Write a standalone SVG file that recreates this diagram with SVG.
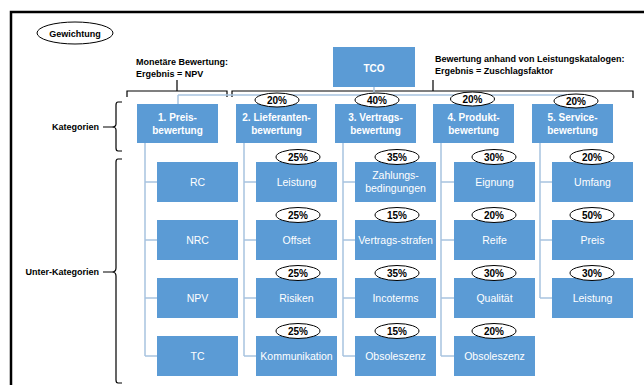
<svg xmlns="http://www.w3.org/2000/svg" width="644" height="385" viewBox="0 0 644 385">
<style>
.box{fill:#5B9BD5;}
.cat{font-family:"Liberation Sans",Arial,sans-serif;font-size:10px;font-weight:bold;fill:#fff;text-anchor:middle;}
.sub{font-family:"Liberation Sans",Arial,sans-serif;font-size:10.5px;fill:#fff;text-anchor:middle;}
.pct{fill:#fff;stroke:#000;stroke-width:1;}
.pt{font-family:"Liberation Sans",Arial,sans-serif;font-size:10px;font-weight:bold;fill:#000;text-anchor:middle;}
.lbl{font-family:"Liberation Sans",Arial,sans-serif;font-size:9px;font-weight:bold;fill:#000;}
.con{fill:none;stroke:#A8C3E0;stroke-width:1.5;}
.brk{fill:none;stroke:#000;stroke-width:1.2;}
</style>
<rect x="0" y="0" width="644" height="385" fill="#fff"/>
<path d="M11,400 V12 H660" fill="none" stroke="#000" stroke-width="2.5"/>

<g id="gewichtung">
<ellipse cx="75" cy="33" rx="38" ry="11" fill="#fff" stroke="#000" stroke-width="1"/>
<text x="75" y="37" class="lbl" text-anchor="middle" font-size="9.5">Gewichtung</text>
</g>

<g id="labels">
<text x="136" y="65" class="lbl">Monetäre Bewertung:</text>
<text x="136" y="77" class="lbl">Ergebnis = NPV</text>
<text x="435" y="62" class="lbl">Bewertung anhand von Leistungskatalogen:</text>
<text x="435" y="74" class="lbl">Ergebnis = Zuschlagsfaktor</text>
<text x="99" y="130" class="lbl" text-anchor="end">Kategorien</text>
<text x="99" y="275" class="lbl" text-anchor="end">Unter-Kategorien</text>
</g>

<g id="brackets">
<path class="brk" d="M127,97 V91 H227 V97 M177,91 V80"/>
<path class="brk" d="M232,97 V91 H633 V98 M433,91 V80"/>
<path class="brk" d="M103,127 H112 M122,102 H118 Q116,102 116,105 V124 Q116,127 112,127 Q116,127 116,130 V148 Q116,151 118,151 H122"/>
<path class="brk" d="M103,272 H112 M122,159 H118 Q116,159 116,162 V268 Q116,272 112,272 Q116,272 116,276 V380 Q116,383 118,383 H122"/>
</g>

<g id="connectors">
<path class="con" d="M374,87 V95 M178,95 H572.5 M178,95 V104 M276.5,95 V104 M375.5,95 V104 M473.5,95 V104 M572.5,95 V104"/>
<path class="con" d="M145,143 V356 M145,182 H157 M145,240 H157 M145,298 H157 M145,356 H157"/>
<path class="con" d="M244,143 V356 M244,182 H256 M244,240 H256 M244,298 H256 M244,356 H256"/>
<path class="con" d="M343,143 V356 M343,182 H355 M343,240 H355 M343,298 H355 M343,356 H355"/>
<path class="con" d="M441,143 V356 M441,182 H454 M441,240 H454 M441,298 H454 M441,356 H454"/>
<path class="con" d="M540,143 V298 M540,182 H552 M540,240 H552 M540,298 H552"/>
</g>

<g id="tco">
<rect class="box" x="333" y="47" width="82" height="40"/>
<text x="374" y="72" class="cat" font-size="14">TCO</text>
</g>

<g id="cat1"><rect class="box" x="137" y="104" width="81" height="39"/>
<text x="177.5" y="121" class="cat">1. Preis-</text><text x="177.5" y="134" class="cat">bewertung</text></g>
<g id="cat2"><rect class="box" x="236" y="104" width="81" height="39"/>
<text x="276.5" y="121" class="cat">2. Lieferanten-</text><text x="276.5" y="134" class="cat">bewertung</text>
<ellipse class="pct" cx="277" cy="100" rx="22" ry="7"/><text x="277" y="104" class="pt">20%</text></g>
<g id="cat3"><rect class="box" x="335" y="104" width="81" height="39"/>
<text x="375.5" y="121" class="cat">3. Vertrags-</text><text x="375.5" y="134" class="cat">bewertung</text>
<ellipse class="pct" cx="377" cy="100" rx="22" ry="7"/><text x="377" y="104" class="pt">40%</text></g>
<g id="cat4"><rect class="box" x="433" y="104" width="81" height="39"/>
<text x="473.5" y="121" class="cat">4. Produkt-</text><text x="473.5" y="134" class="cat">bewertung</text>
<ellipse class="pct" cx="472.5" cy="99" rx="22" ry="7"/><text x="472.5" y="103" class="pt">20%</text></g>
<g id="cat5"><rect class="box" x="532" y="104" width="81" height="39"/>
<text x="572.5" y="121" class="cat">5. Service-</text><text x="572.5" y="134" class="cat">bewertung</text>
<ellipse class="pct" cx="576" cy="101" rx="22" ry="7"/><text x="576" y="105" class="pt">20%</text></g>

<!-- column 1 -->
<g id="rc"><rect class="box" x="157" y="162" width="81" height="40"/><text x="197.5" y="186" class="sub">RC</text></g>
<g id="nrc"><rect class="box" x="157" y="220" width="81" height="40"/><text x="197.5" y="244" class="sub">NRC</text></g>
<g id="npv"><rect class="box" x="157" y="278" width="81" height="40"/><text x="197.5" y="302" class="sub">NPV</text></g>
<g id="tc"><rect class="box" x="157" y="336" width="81" height="40"/><text x="197.5" y="360" class="sub">TC</text></g>

<!-- column 2 -->
<g id="leistung2"><rect class="box" x="256" y="162" width="81" height="40"/><text x="296.5" y="186" class="sub">Leistung</text>
<ellipse class="pct" cx="298" cy="157" rx="22" ry="7.5"/><text x="298" y="161" class="pt">25%</text></g>
<g id="offset"><rect class="box" x="256" y="220" width="81" height="40"/><text x="296.5" y="244" class="sub">Offset</text>
<ellipse class="pct" cx="298" cy="215" rx="22" ry="7.5"/><text x="298" y="219" class="pt">25%</text></g>
<g id="risiken"><rect class="box" x="256" y="278" width="81" height="40"/><text x="296.5" y="302" class="sub">Risiken</text>
<ellipse class="pct" cx="298" cy="273" rx="22" ry="7.5"/><text x="298" y="277" class="pt">25%</text></g>
<g id="kommunikation"><rect class="box" x="256" y="336" width="81" height="40"/><text x="296.5" y="360" class="sub">Kommunikation</text>
<ellipse class="pct" cx="298" cy="331" rx="22" ry="7.5"/><text x="298" y="335" class="pt">25%</text></g>

<!-- column 3 -->
<g id="zahlung"><rect class="box" x="355" y="162" width="81" height="40"/><text x="395.5" y="179" class="sub">Zahlungs-</text><text x="395.5" y="192" class="sub">bedingungen</text>
<ellipse class="pct" cx="397" cy="157" rx="22" ry="7.5"/><text x="397" y="161" class="pt">35%</text></g>
<g id="vertragsstrafen"><rect class="box" x="355" y="220" width="81" height="40"/><text x="395.5" y="244" class="sub">Vertrags-strafen</text>
<ellipse class="pct" cx="397" cy="215" rx="22" ry="7.5"/><text x="397" y="219" class="pt">15%</text></g>
<g id="incoterms"><rect class="box" x="355" y="278" width="81" height="40"/><text x="395.5" y="302" class="sub">Incoterms</text>
<ellipse class="pct" cx="397" cy="273" rx="22" ry="7.5"/><text x="397" y="277" class="pt">35%</text></g>
<g id="obsoleszenz3"><rect class="box" x="355" y="336" width="81" height="40"/><text x="395.5" y="360" class="sub">Obsoleszenz</text>
<ellipse class="pct" cx="397" cy="331" rx="22" ry="7.5"/><text x="397" y="335" class="pt">15%</text></g>

<!-- column 4 -->
<g id="eignung"><rect class="box" x="454" y="162" width="81" height="40"/><text x="494.5" y="186" class="sub">Eignung</text>
<ellipse class="pct" cx="494" cy="157" rx="22" ry="7.5"/><text x="494" y="161" class="pt">30%</text></g>
<g id="reife"><rect class="box" x="454" y="220" width="81" height="40"/><text x="494.5" y="244" class="sub">Reife</text>
<ellipse class="pct" cx="494" cy="215" rx="22" ry="7.5"/><text x="494" y="219" class="pt">20%</text></g>
<g id="qualitaet"><rect class="box" x="454" y="278" width="81" height="40"/><text x="494.5" y="302" class="sub">Qualität</text>
<ellipse class="pct" cx="494" cy="273" rx="22" ry="7.5"/><text x="494" y="277" class="pt">30%</text></g>
<g id="obsoleszenz4"><rect class="box" x="454" y="336" width="81" height="40"/><text x="494.5" y="360" class="sub">Obsoleszenz</text>
<ellipse class="pct" cx="494" cy="331" rx="22" ry="7.5"/><text x="494" y="335" class="pt">20%</text></g>

<!-- column 5 -->
<g id="umfang"><rect class="box" x="552" y="162" width="81" height="40"/><text x="592.5" y="186" class="sub">Umfang</text>
<ellipse class="pct" cx="592" cy="157" rx="22" ry="7.5"/><text x="592" y="161" class="pt">20%</text></g>
<g id="preis"><rect class="box" x="552" y="220" width="81" height="40"/><text x="592.5" y="244" class="sub">Preis</text>
<ellipse class="pct" cx="592" cy="215" rx="22" ry="7.5"/><text x="592" y="219" class="pt">50%</text></g>
<g id="leistung5"><rect class="box" x="552" y="278" width="81" height="40"/><text x="592.5" y="302" class="sub">Leistung</text>
<ellipse class="pct" cx="592" cy="273" rx="22" ry="7.5"/><text x="592" y="277" class="pt">30%</text></g>
</svg>
